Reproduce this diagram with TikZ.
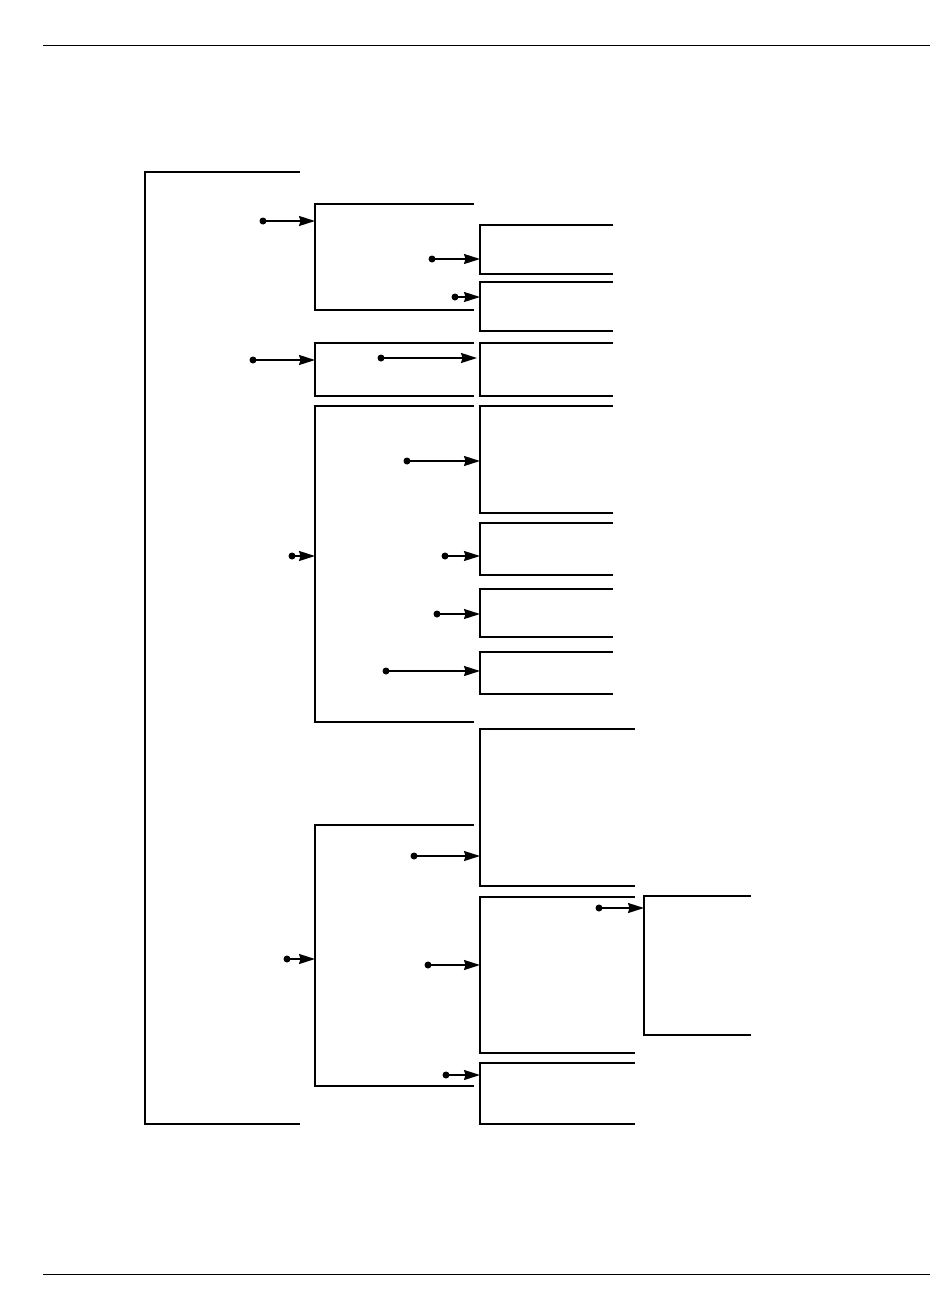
\documentclass[tikz,border=0pt]{standalone}
\usetikzlibrary{arrows.meta}
\begin{document}
\begin{tikzpicture}[x=1pt,y=-1pt,
  br/.style={line width=2.2pt,line cap=rect},
  rule/.style={line width=1pt},
  arr/.style={line width=1.8pt,-{Stealth[length=16pt,width=10pt,inset=1.5pt]}},
  dotc/.style={fill=black,circle,inner sep=0pt,minimum size=7pt}]
\useasboundingbox (0,0) rectangle (950,1301);
% page rules
\draw[rule] (43,45) -- (930,45);
\draw[rule] (43,1274) -- (930,1274);
% main bracket
\draw[br] (299,172) -- (145,172) -- (145,1124) -- (299,1124);
% bracket A
\draw[br] (473,204) -- (315,204) -- (315,310) -- (473,310);
\coordinate (Ain) at (315,221);
\node[dotc] (Adot) at (263,221) {};
\draw[arr] (Adot.center) -- (Ain);
% A1
\draw[br] (612,225) -- (480,225) -- (480,274) -- (612,274);
\coordinate (A1in) at (480,259);
\node[dotc] (A1dot) at (432,259) {};
\draw[arr] (A1dot.center) -- (A1in);
% A2
\draw[br] (612,282) -- (480,282) -- (480,331) -- (612,331);
\coordinate (A2in) at (480,297);
\node[dotc] (A2dot) at (455,297) {};
\draw[arr] (A2dot.center) -- (A2in);
% bracket B
\draw[br] (473,343) -- (315,343) -- (315,396) -- (473,396);
\coordinate (Bin) at (315,360);
\node[dotc] (Bdot) at (253,360) {};
\draw[arr] (Bdot.center) -- (Bin);
% B1
\draw[br] (612,343) -- (480,343) -- (480,396) -- (612,396);
\coordinate (B1in) at (477,358);
\node[dotc] (B1dot) at (381,358) {};
\draw[arr] (B1dot.center) -- (B1in);
% bracket C
\draw[br] (473,406) -- (315,406) -- (315,722) -- (473,722);
\coordinate (Cin) at (315,556);
\node[dotc] (Cdot) at (292,556) {};
\draw[arr] (Cdot.center) -- (Cin);
% C1
\draw[br] (612,406) -- (480,406) -- (480,513) -- (612,513);
\coordinate (C1in) at (480,461);
\node[dotc] (C1dot) at (407,461) {};
\draw[arr] (C1dot.center) -- (C1in);
% C2
\draw[br] (612,523) -- (480,523) -- (480,575) -- (612,575);
\coordinate (C2in) at (480,556);
\node[dotc] (C2dot) at (445,556) {};
\draw[arr] (C2dot.center) -- (C2in);
% C3
\draw[br] (612,589) -- (480,589) -- (480,637) -- (612,637);
\coordinate (C3in) at (480,614);
\node[dotc] (C3dot) at (437,614) {};
\draw[arr] (C3dot.center) -- (C3in);
% C4
\draw[br] (612,652) -- (480,652) -- (480,694) -- (612,694);
\coordinate (C4in) at (480,671);
\node[dotc] (C4dot) at (386,671) {};
\draw[arr] (C4dot.center) -- (C4in);
% bracket D
\draw[br] (473,825) -- (315,825) -- (315,1086) -- (473,1086);
\coordinate (Din) at (315,959);
\node[dotc] (Ddot) at (287,959) {};
\draw[arr] (Ddot.center) -- (Din);
% D1
\draw[br] (634,729) -- (480,729) -- (480,886) -- (634,886);
\coordinate (D1in) at (480,856);
\node[dotc] (D1dot) at (414,856) {};
\draw[arr] (D1dot.center) -- (D1in);
% D2
\draw[br] (634,897) -- (480,897) -- (480,1053) -- (634,1053);
\coordinate (D2in) at (480,965);
\node[dotc] (D2dot) at (428,965) {};
\draw[arr] (D2dot.center) -- (D2in);
% D2a
\draw[br] (750,896) -- (644,896) -- (644,1035) -- (750,1035);
\coordinate (D2ain) at (644,908);
\node[dotc] (D2adot) at (599,908) {};
\draw[arr] (D2adot.center) -- (D2ain);
% D3
\draw[br] (634,1063) -- (480,1063) -- (480,1124) -- (634,1124);
\coordinate (D3in) at (480,1075);
\node[dotc] (D3dot) at (446,1075) {};
\draw[arr] (D3dot.center) -- (D3in);
\end{tikzpicture}
\end{document}
